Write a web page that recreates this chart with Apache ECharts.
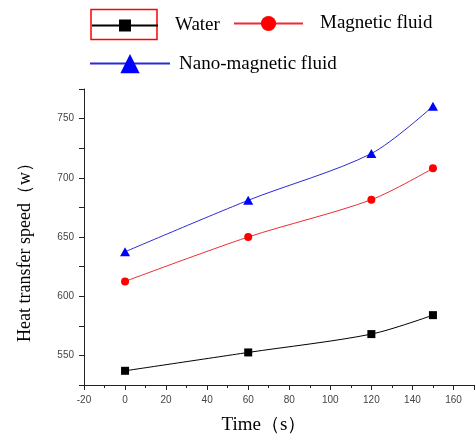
<!DOCTYPE html>
<html>
<head>
<meta charset="utf-8">
<script src="https://cdn.jsdelivr.net/npm/echarts@6/dist/echarts.min.js"></script>
<style>
  html, body { margin: 0; padding: 0; background: #fff; }
  #chart { width: 475px; height: 436px; }
</style>
</head>
<body>
<div id="chart"></div>
<script>
// Time points (s)
const times = [0, 60, 120, 150];
// Heat transfer speed (w) for each fluid
const water = [537, 552.5, 568, 584];
const magneticFluid = [612.5, 650, 681.5, 708];
const nanoMagneticFluid = [637.5, 681, 720.5, 760.5];

// Axis ranges and steps
const xRange = { min: -20, max: 170, step: 20 };
const yRange = { min: 525, max: 775, step: 25, labelStep: 50 };

const serif = "'Liberation Serif', 'Times New Roman', serif";
const sans = "'Liberation Sans', Arial, sans-serif";

const pairs = arr => times.map((t, i) => [t, arr[i]]);

const chart = echarts.init(document.getElementById('chart'));

// One legend block per series so each can sit where the layout needs it
const legendText = padLeft => ({
  fontFamily: serif, fontSize: 19, color: '#000', padding: [0, 0, 0, padLeft]
});
const legendBase = { orient: 'horizontal', padding: 0, selectedMode: false };

chart.setOption({
  animation: false,
  backgroundColor: '#fff',
  grid: {
    left: 84, right: 1, top: 89, bottom: 51,
    containLabel: false,
    outerBoundsMode: 'none'
  },
  legend: [
    Object.assign({}, legendBase, {
      data: ['Water'], left: 91, top: 16, itemWidth: 66, itemHeight: 15, textStyle: legendText(12)
    }),
    Object.assign({}, legendBase, {
      data: ['Magnetic fluid'], left: 233, top: 14, itemWidth: 69, itemHeight: 19, textStyle: legendText(12)
    }),
    Object.assign({}, legendBase, {
      data: ['Nano-magnetic fluid'], left: 89, top: 54, itemWidth: 80, itemHeight: 24, textStyle: legendText(4)
    })
  ],
  graphic: [
    {
      type: 'rect',
      shape: { x: 91, y: 9.5, width: 66, height: 30 },
      style: { fill: 'none', stroke: '#ff0000', lineWidth: 1.5 },
      silent: true
    }
  ],
  xAxis: {
    type: 'value',
    min: xRange.min,
    max: xRange.max,
    interval: xRange.step,
    name: 'Time（s）',
    nameLocation: 'middle',
    nameGap: 31,
    nameTextStyle: { fontFamily: serif, fontSize: 19, color: '#000', padding: [0, 30, 0, 0] },
    axisLine: { show: true, onZero: false, lineStyle: { color: '#222', width: 1 } },
    axisTick: { show: true, inside: false, length: 5, lineStyle: { color: '#222', width: 1 } },
    minorTick: { show: true, splitNumber: 2, length: 3, lineStyle: { color: '#222', width: 1 } },
    axisLabel: {
      show: true, margin: 10, fontFamily: sans, fontSize: 10, color: '#444',
      showMaxLabel: false,
      formatter: v => (v % xRange.step === 0 ? String(v) : '')
    },
    splitLine: { show: false },
    minorSplitLine: { show: false }
  },
  yAxis: {
    type: 'value',
    min: yRange.min,
    max: yRange.max,
    interval: yRange.step,
    name: 'Heat transfer speed（w）',
    nameLocation: 'middle',
    nameGap: 50,
    nameTextStyle: { fontFamily: serif, fontSize: 18, color: '#000', padding: [0, 22, 0, 0] },
    axisLine: { show: true, onZero: false, lineStyle: { color: '#222', width: 1 } },
    axisTick: { show: true, inside: false, length: 5, lineStyle: { color: '#222', width: 1 } },
    axisLabel: {
      show: true, margin: 10, fontFamily: sans, fontSize: 10, color: '#444',
      formatter: v => (v % yRange.labelStep === 0 ? String(v) : '')
    },
    splitLine: { show: false }
  },
  series: [
    {
      name: 'Water',
      type: 'line',
      data: pairs(water),
      smooth: 0.3,
      symbol: 'rect',
      symbolSize: 8,
      itemStyle: { color: '#000' },
      lineStyle: { color: '#000', width: 1 }
    },
    {
      name: 'Magnetic fluid',
      type: 'line',
      data: pairs(magneticFluid),
      smooth: 0.3,
      symbol: 'circle',
      symbolSize: 8,
      itemStyle: { color: '#ff0000' },
      lineStyle: { color: '#ee2a34', width: 1 }
    },
    {
      name: 'Nano-magnetic fluid',
      type: 'line',
      data: pairs(nanoMagneticFluid),
      smooth: 0.3,
      symbol: 'triangle',
      symbolSize: [10, 9],
      itemStyle: { color: '#0000ff' },
      lineStyle: { color: '#2a2ad8', width: 1 }
    }
  ]
});
</script>
</body>
</html>
